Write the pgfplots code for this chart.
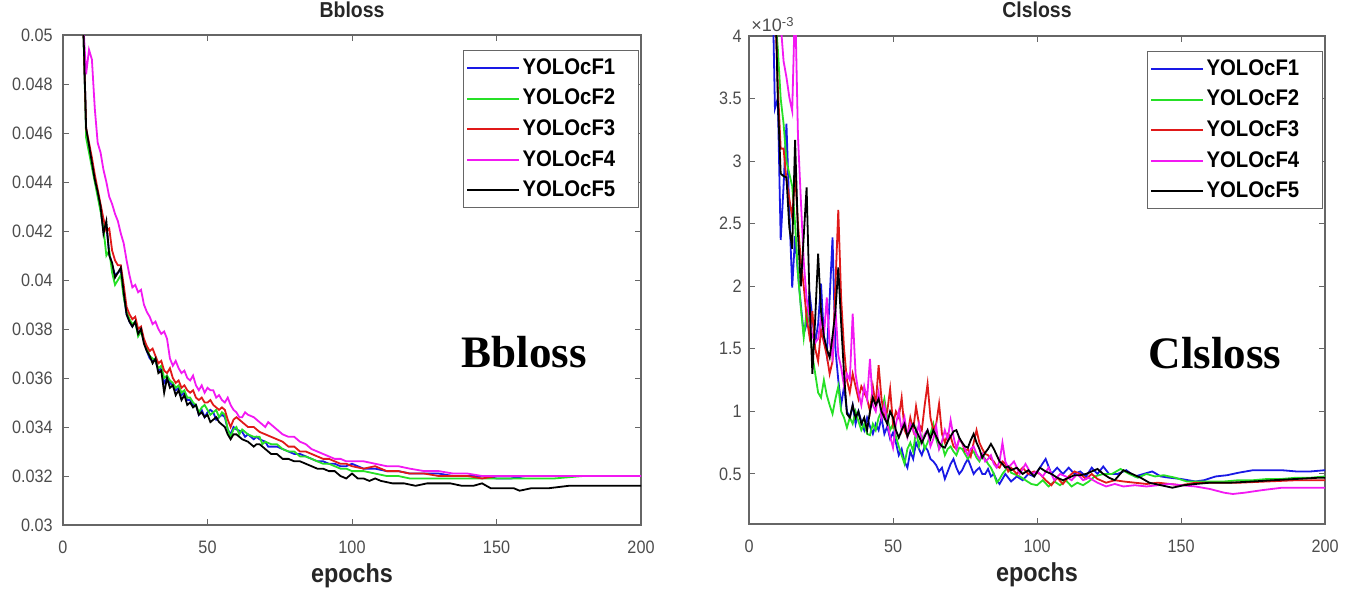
\documentclass[border=0pt]{standalone}
\usepackage{fontspec}
\setmainfont{Liberation Sans}[FakeStretch=0.9]
\newfontfamily\serifbf{Liberation Serif}
\newfontfamily\plainsans{Liberation Sans}
\usepackage{pgfplots}
\pgfplotsset{compat=1.18}
\definecolor{cFa}{rgb}{0.1,0.1,0.9}
\definecolor{cFb}{rgb}{0.15,0.88,0.15}
\definecolor{cFc}{rgb}{0.88,0.1,0.1}
\definecolor{cFd}{rgb}{0.95,0.1,0.95}
\definecolor{cFe}{rgb}{0,0,0}
\definecolor{axgray}{rgb}{0.4,0.4,0.4}
\definecolor{lblgray}{rgb}{0.3,0.3,0.3}
\pgfplotsset{mystyle/.style={
  scale only axis, xmin=0, xmax=200,
  scaled x ticks=false, scaled y ticks=false,
  axis line style={axgray, line width=0.6pt},
  tick style={axgray, line width=0.5pt},
  major tick length=3pt, tick align=inside, tick pos=both,
  xtick={0,50,100,150,200}, xticklabels={0,50,100,150,200},
  ticklabel style={font=\fontsize{9}{10}\selectfont, text=lblgray},
  xticklabel style={anchor=base, yshift=-14pt},
  title style={font=\bfseries\fontsize{10.8}{12}\selectfont, text=black!85, at={(0.5,1)}, anchor=base, yshift=3pt},
  xlabel style={font=\bfseries\fontsize{13}{14}\selectfont, text=black!85, at={(axis description cs:0.5,0)}, anchor=base, yshift=-28.5pt},
  legend style={at={(rel axis cs:0.997,0.969)}, anchor=north east, draw=axgray, line width=0.5pt, fill=white,
    inner xsep=1.5pt, inner ysep=1pt, row sep=0pt, font=\bfseries\fontsize{11.3}{13}\selectfont,
    nodes={inner xsep=1.25pt, inner ysep=2.5pt, text height=8.3pt, text depth=2pt}},
  legend cell align=left,
  legend image code/.code={\draw[#1, line width=1pt] (0pt,0pt) -- (26pt,0pt);},
  every axis plot/.append style={line width=0.9pt, no markers},
}}
\begin{document}
\begin{tikzpicture}
\useasboundingbox (0,0) rectangle (673.5pt,295pt);
% ---------------- Left: Bbloss ----------------
\begin{axis}[mystyle, at={(31.5pt,32.5pt)}, anchor=south west, width=289pt, height=245pt,
  ymin=0.03, ymax=0.05,
  ytick={0.03,0.032,0.034,0.036,0.038,0.04,0.042,0.044,0.046,0.048,0.05},
  yticklabels={0.03,0.032,0.034,0.036,0.038,0.04,0.042,0.044,0.046,0.048,0.05},
  yticklabel style={anchor=east, inner xsep=0pt, xshift=-5pt},
  title={Bbloss}, xlabel={epochs}]
\addplot[cFa] coordinates {(7,0.0505)(8,0.0461)(9,0.0454)(10,0.0447)(11,0.0441)(12,0.0435)(13,0.0429)(14,0.0420)(15,0.0422)(16,0.0411)(17,0.0406)(18,0.0402)(19,0.0403)(20,0.0404)(21,0.0394)(22,0.0386)(23,0.0383)(24,0.0381)(25,0.0383)(26,0.0378)(27,0.0380)(28,0.0375)(29,0.0371)(30,0.0368)(31,0.0367)(32,0.0367)(33,0.0363)(34,0.0364)(35,0.0358)(36,0.0360)(37,0.0358)(38,0.0357)(39,0.0355)(40,0.0356)(41,0.0353)(42,0.0354)(43,0.0351)(44,0.0351)(45,0.0349)(46,0.0349)(47,0.0345)(48,0.0347)(49,0.0344)(50,0.0346)(51,0.0347)(52,0.0346)(53,0.0343)(54,0.0344)(55,0.0345)(56,0.0344)(57,0.0339)(58,0.0337)(59,0.0340)(60,0.0339)(62,0.0338)(63,0.0336)(64,0.0337)(66,0.0335)(67,0.0336)(68,0.0335)(70,0.0334)(71,0.0332)(72,0.0332)(74,0.0332)(76,0.0331)(78,0.0330)(80,0.0329)(82,0.0329)(84,0.0328)(86,0.0327)(88,0.0326)(90,0.0326)(92,0.0325)(94,0.0325)(96,0.0324)(98,0.0324)(100,0.0325)(104,0.0323)(108,0.0323)(112,0.0322)(116,0.0322)(120,0.0321)(125,0.0321)(130,0.0321)(135,0.0320)(140,0.0320)(145,0.0320)(150,0.0319)(155,0.0319)(160,0.0320)(170,0.0320)(180,0.0320)(190,0.0320)(200,0.0320)};
\addlegendentry{YOLOcF1\hspace*{9pt}}
\addplot[cFb] coordinates {(7,0.0505)(8,0.0458)(9,0.0452)(10,0.0446)(11,0.0440)(12,0.0434)(13,0.0428)(14,0.0421)(15,0.0410)(16,0.0412)(17,0.0403)(18,0.0398)(19,0.0400)(20,0.0402)(21,0.0393)(22,0.0387)(23,0.0384)(24,0.0382)(25,0.0383)(26,0.0377)(27,0.0379)(28,0.0375)(29,0.0372)(30,0.0369)(31,0.0368)(32,0.0367)(33,0.0364)(34,0.0365)(35,0.0360)(36,0.0361)(37,0.0359)(38,0.0358)(39,0.0356)(40,0.0357)(41,0.0354)(42,0.0355)(43,0.0352)(44,0.0352)(45,0.0350)(46,0.0349)(47,0.0346)(48,0.0348)(49,0.0349)(50,0.0347)(51,0.0345)(52,0.0346)(53,0.0347)(54,0.0344)(55,0.0346)(56,0.0345)(57,0.0339)(58,0.0336)(59,0.0339)(60,0.0340)(61,0.0337)(62,0.0339)(64,0.0337)(66,0.0336)(68,0.0336)(69,0.0333)(70,0.0334)(72,0.0333)(74,0.0333)(76,0.0331)(78,0.0330)(80,0.0330)(82,0.0328)(84,0.0328)(86,0.0327)(88,0.0326)(90,0.0325)(92,0.0325)(94,0.0324)(96,0.0323)(98,0.0323)(100,0.0322)(104,0.0322)(108,0.0321)(112,0.0320)(116,0.0320)(120,0.0319)(125,0.0319)(130,0.0319)(140,0.0319)(150,0.0319)(160,0.0319)(170,0.0319)(180,0.0320)(190,0.0320)(200,0.0320)};
\addlegendentry{YOLOcF2\hspace*{9pt}}
\addplot[cFc] coordinates {(7,0.0505)(8,0.0462)(9,0.0456)(10,0.0450)(11,0.0443)(12,0.0437)(13,0.0431)(14,0.0425)(15,0.0420)(16,0.0421)(17,0.0412)(18,0.0408)(19,0.0406)(20,0.0406)(21,0.0398)(22,0.0389)(23,0.0386)(24,0.0384)(25,0.0385)(26,0.0380)(27,0.0381)(28,0.0376)(29,0.0373)(30,0.0371)(31,0.0372)(32,0.0369)(33,0.0366)(34,0.0367)(35,0.0363)(36,0.0362)(37,0.0364)(38,0.0360)(39,0.0358)(40,0.0359)(41,0.0356)(42,0.0357)(43,0.0355)(44,0.0354)(45,0.0355)(46,0.0352)(47,0.0351)(48,0.0352)(49,0.0350)(50,0.0350)(51,0.0351)(52,0.0349)(53,0.0348)(54,0.0347)(55,0.0348)(56,0.0347)(57,0.0343)(58,0.0340)(59,0.0343)(60,0.0344)(62,0.0342)(64,0.0340)(66,0.0340)(68,0.0338)(70,0.0337)(72,0.0336)(74,0.0335)(76,0.0334)(78,0.0332)(80,0.0332)(82,0.0330)(84,0.0330)(86,0.0329)(88,0.0328)(90,0.0327)(92,0.0327)(94,0.0326)(96,0.0325)(98,0.0325)(100,0.0324)(104,0.0323)(108,0.0324)(112,0.0322)(116,0.0322)(120,0.0321)(125,0.0321)(130,0.0320)(135,0.0320)(140,0.0320)(145,0.0319)(150,0.0320)(160,0.0320)(170,0.0320)(180,0.0320)(190,0.0320)(200,0.0320)};
\addlegendentry{YOLOcF3\hspace*{9pt}}
\addplot[cFd] coordinates {(7,0.0505)(8,0.0484)(9,0.0494)(10,0.0490)(11,0.0470)(12,0.0456)(13,0.0452)(14,0.0445)(15,0.0440)(16,0.0434)(17,0.0431)(18,0.0427)(19,0.0424)(20,0.0419)(21,0.0415)(22,0.0408)(23,0.0402)(24,0.0397)(25,0.0398)(26,0.0395)(27,0.0396)(28,0.0390)(29,0.0387)(30,0.0385)(31,0.0382)(32,0.0383)(33,0.0380)(34,0.0378)(35,0.0379)(36,0.0376)(37,0.0368)(38,0.0365)(39,0.0367)(40,0.0364)(41,0.0362)(42,0.0363)(43,0.0360)(44,0.0359)(45,0.0361)(46,0.0357)(47,0.0355)(48,0.0357)(49,0.0354)(50,0.0356)(51,0.0355)(52,0.0355)(53,0.0352)(54,0.0353)(55,0.0351)(56,0.0350)(57,0.0352)(58,0.0349)(59,0.0347)(60,0.0346)(61,0.0344)(62,0.0344)(63,0.0346)(64,0.0345)(66,0.0344)(68,0.0342)(69,0.0341)(70,0.0340)(71,0.0342)(72,0.0341)(74,0.0339)(76,0.0337)(78,0.0336)(80,0.0336)(82,0.0334)(84,0.0333)(86,0.0331)(88,0.0330)(90,0.0329)(92,0.0328)(94,0.0327)(96,0.0327)(98,0.0326)(100,0.0326)(104,0.0326)(108,0.0325)(112,0.0324)(116,0.0324)(120,0.0323)(125,0.0322)(130,0.0322)(135,0.0321)(140,0.0321)(145,0.0320)(150,0.0320)(160,0.0320)(170,0.0320)(180,0.0320)(190,0.0320)(200,0.0320)};
\addlegendentry{YOLOcF4\hspace*{9pt}}
\addplot[cFe] coordinates {(7,0.0505)(8,0.0462)(9,0.0455)(10,0.0448)(11,0.0441)(12,0.0436)(13,0.0430)(14,0.0419)(15,0.0424)(16,0.0410)(17,0.0407)(18,0.0401)(19,0.0403)(20,0.0405)(21,0.0395)(22,0.0386)(23,0.0383)(24,0.0381)(25,0.0383)(26,0.0378)(27,0.0380)(28,0.0374)(29,0.0371)(30,0.0369)(31,0.0366)(32,0.0368)(33,0.0362)(34,0.0363)(35,0.0354)(36,0.0360)(37,0.0356)(38,0.0357)(39,0.0353)(40,0.0355)(41,0.0351)(42,0.0353)(43,0.0349)(44,0.0350)(45,0.0348)(46,0.0349)(47,0.0345)(48,0.0346)(49,0.0344)(50,0.0345)(51,0.0342)(52,0.0343)(53,0.0344)(54,0.0342)(55,0.0341)(56,0.0340)(57,0.0337)(58,0.0335)(59,0.0337)(60,0.0337)(62,0.0335)(64,0.0334)(66,0.0332)(67,0.0333)(68,0.0333)(70,0.0331)(72,0.0329)(74,0.0329)(76,0.0327)(78,0.0327)(80,0.0326)(82,0.0326)(84,0.0325)(86,0.0324)(88,0.0323)(90,0.0323)(92,0.0322)(94,0.0322)(96,0.0320)(98,0.0319)(100,0.0321)(102,0.0319)(104,0.0319)(106,0.0318)(108,0.0319)(110,0.0318)(114,0.0317)(118,0.0317)(122,0.0316)(126,0.0317)(130,0.0317)(134,0.0317)(138,0.0316)(142,0.0316)(145,0.0317)(148,0.0315)(152,0.0315)(156,0.0315)(158,0.0314)(162,0.0315)(168,0.0315)(175,0.0316)(182,0.0316)(190,0.0316)(200,0.0316)};
\addlegendentry{YOLOcF5\hspace*{9pt}}
\node[font=\serifbf\bfseries\fontsize{22.5}{24}\selectfont, inner sep=0pt] at (rel axis cs:0.798,0.353) {Bbloss};
\end{axis}
% ---------------- Right: Clsloss ----------------
\begin{axis}[mystyle, name=R, at={(374.5pt,33pt)}, anchor=south west, width=288pt, height=244pt,
  ymin=0.1, ymax=4,
  ytick={0.5,1,1.5,2,2.5,3,3.5,4},
  yticklabels={0.5,1,1.5,2,2.5,3,3.5,4},
  yticklabel style={anchor=east, inner xsep=0pt, xshift=-3.5pt},
  title={Clsloss}, xlabel={epochs}]
\addplot[cFa] coordinates {(8,4.6)(9,3.42)(10,3.5)(11,2.37)(12,2.8)(13,3.3)(14,2.6)(15,1.99)(16,2.4)(17,2.1)(18,1.85)(19,1.62)(20,1.7)(21,1.95)(22,1.75)(23,1.55)(24,1.7)(25,2.02)(26,1.6)(27,1.45)(28,1.9)(29,2.39)(30,1.5)(31,1.25)(32,1.05)(33,1.2)(34,1.0)(35,0.95)(36,1.05)(37,0.9)(38,1.0)(39,0.92)(40,0.85)(41,0.95)(42,0.88)(43,0.82)(44,0.9)(45,0.85)(46,0.95)(47,0.82)(48,0.88)(49,0.78)(50,0.83)(51,0.75)(52,0.65)(53,0.7)(54,0.6)(55,0.55)(56,0.68)(57,0.62)(58,0.75)(59,0.7)(60,0.65)(61,0.72)(62,0.69)(63,0.62)(64,0.6)(65,0.57)(66,0.52)(67,0.55)(68,0.46)(69,0.52)(70,0.58)(71,0.62)(72,0.55)(73,0.5)(74,0.53)(75,0.58)(76,0.62)(77,0.56)(78,0.5)(79,0.53)(80,0.55)(81,0.5)(82,0.5)(83,0.54)(84,0.48)(85,0.5)(86,0.45)(87,0.42)(88,0.46)(89,0.5)(90,0.47)(91,0.44)(92,0.46)(93,0.48)(95,0.45)(97,0.5)(99,0.48)(101,0.55)(103,0.62)(105,0.5)(107,0.55)(109,0.5)(111,0.55)(113,0.5)(115,0.52)(117,0.48)(119,0.55)(121,0.5)(123,0.56)(125,0.5)(128,0.5)(131,0.53)(134,0.48)(137,0.5)(140,0.52)(143,0.48)(146,0.47)(150,0.46)(155,0.44)(158,0.45)(162,0.48)(166,0.49)(170,0.51)(175,0.53)(180,0.53)(185,0.53)(190,0.52)(195,0.52)(200,0.53)};
\addlegendentry{YOLOcF1\hspace*{9pt}}
\addplot[cFb] coordinates {(8,4.8)(9,4.2)(10,3.9)(11,3.5)(12,3.3)(13,3.0)(14,2.9)(15,2.8)(16,2.5)(17,2.1)(18,1.83)(19,1.59)(20,1.8)(21,1.7)(22,1.45)(23,1.3)(24,1.15)(25,1.11)(26,1.25)(27,1.13)(28,1.05)(29,0.98)(30,1.1)(31,1.2)(32,1.0)(33,0.95)(34,0.87)(35,0.95)(36,0.9)(37,1.0)(38,0.92)(39,0.85)(40,0.9)(41,0.82)(42,0.81)(43,0.9)(44,0.85)(45,0.95)(46,1.0)(47,1.1)(48,0.95)(49,0.85)(50,0.9)(51,0.8)(52,0.72)(53,0.65)(54,0.58)(55,0.7)(56,0.75)(57,0.68)(58,0.85)(59,0.72)(60,0.8)(61,0.7)(62,0.75)(63,0.82)(64,0.9)(65,0.78)(66,0.7)(67,0.74)(68,0.65)(69,0.7)(70,0.72)(71,0.68)(72,0.65)(73,0.71)(74,0.7)(75,0.66)(76,0.62)(77,0.66)(78,0.68)(79,0.63)(80,0.6)(81,0.65)(82,0.62)(83,0.58)(84,0.55)(85,0.5)(86,0.43)(87,0.46)(88,0.5)(89,0.53)(90,0.55)(91,0.51)(92,0.5)(94,0.48)(96,0.45)(98,0.42)(100,0.41)(102,0.45)(104,0.4)(106,0.44)(108,0.41)(110,0.45)(112,0.4)(114,0.43)(116,0.41)(118,0.44)(120,0.48)(123,0.5)(126,0.5)(129,0.54)(132,0.5)(135,0.47)(138,0.5)(141,0.48)(144,0.49)(148,0.47)(152,0.44)(156,0.44)(160,0.44)(165,0.44)(170,0.45)(175,0.45)(180,0.46)(185,0.46)(190,0.47)(195,0.47)(200,0.48)};
\addlegendentry{YOLOcF2\hspace*{9pt}}
\addplot[cFc] coordinates {(8,5)(9,4.3)(10,3.6)(11,3.1)(12,3.1)(13,2.85)(14,2.7)(15,2.55)(16,2.9)(17,2.5)(18,2.2)(19,2.0)(20,1.75)(21,1.6)(22,1.8)(23,1.5)(24,1.4)(25,1.65)(26,1.55)(27,1.45)(28,1.3)(29,1.4)(30,2.0)(31,2.61)(32,1.9)(33,1.5)(34,1.25)(35,1.15)(36,1.3)(37,1.2)(38,1.1)(39,1.2)(40,1.15)(41,1.1)(42,1.0)(43,1.2)(44,1.05)(45,1.37)(46,1.1)(47,0.95)(48,1.0)(49,1.18)(50,0.9)(51,1.0)(52,0.95)(53,1.11)(54,0.85)(55,0.8)(56,0.95)(57,0.85)(58,1.04)(59,0.9)(60,0.85)(61,1.05)(62,1.22)(63,0.95)(64,0.85)(65,0.9)(66,1.06)(67,0.82)(68,0.75)(69,0.82)(70,0.8)(71,0.72)(72,0.7)(73,0.78)(74,0.75)(75,0.68)(76,0.7)(77,0.64)(78,0.75)(79,0.85)(80,0.75)(81,0.7)(82,0.66)(83,0.65)(84,0.62)(85,0.6)(86,0.56)(87,0.55)(88,0.6)(89,0.58)(90,0.52)(91,0.55)(93,0.5)(95,0.55)(97,0.5)(99,0.52)(101,0.5)(103,0.45)(105,0.41)(107,0.47)(109,0.42)(111,0.48)(113,0.52)(115,0.5)(117,0.46)(119,0.5)(121,0.46)(124,0.43)(127,0.45)(130,0.44)(134,0.43)(138,0.42)(142,0.43)(146,0.42)(150,0.41)(155,0.43)(160,0.43)(170,0.43)(180,0.44)(190,0.45)(200,0.45)};
\addlegendentry{YOLOcF3\hspace*{9pt}}
\addplot[cFd] coordinates {(8,5)(9,4.5)(10,4.2)(11,4.1)(12,3.8)(13,3.67)(14,3.51)(15,3.4)(16,4.3)(17,3.2)(18,2.69)(19,2.2)(20,1.9)(21,1.75)(22,1.6)(23,1.55)(24,1.58)(25,1.75)(26,1.6)(27,1.91)(28,1.55)(29,1.43)(30,1.83)(31,1.45)(32,1.35)(33,1.2)(34,1.3)(35,1.25)(36,1.78)(37,1.3)(38,1.15)(39,1.05)(40,1.2)(41,1.1)(42,1.42)(43,1.05)(44,1.0)(45,1.15)(46,0.95)(47,1.05)(48,0.9)(49,0.8)(50,0.71)(51,0.9)(52,1.0)(53,0.85)(54,0.95)(55,0.8)(56,0.9)(57,0.85)(58,0.8)(59,0.9)(60,0.75)(61,0.82)(62,0.85)(63,0.72)(64,0.78)(65,0.88)(66,0.7)(67,0.76)(68,0.85)(69,0.78)(70,0.93)(71,0.8)(72,0.7)(73,0.78)(74,0.75)(75,0.7)(76,0.65)(77,0.7)(78,0.72)(79,0.66)(80,0.62)(81,0.66)(82,0.6)(83,0.62)(84,0.65)(85,0.58)(86,0.55)(87,0.6)(88,0.75)(89,0.6)(90,0.55)(92,0.6)(94,0.5)(96,0.58)(98,0.5)(100,0.52)(102,0.48)(104,0.55)(106,0.45)(108,0.5)(110,0.48)(112,0.45)(114,0.5)(116,0.45)(118,0.47)(121,0.43)(124,0.4)(127,0.42)(130,0.4)(134,0.41)(138,0.4)(142,0.41)(146,0.42)(150,0.41)(155,0.4)(160,0.38)(165,0.35)(168,0.34)(172,0.35)(178,0.37)(185,0.39)(190,0.39)(195,0.39)(200,0.39)};
\addlegendentry{YOLOcF4\hspace*{9pt}}
\addplot[cFe] coordinates {(8,5)(9,4.5)(10,3.49)(11,2.9)(12,2.88)(13,2.87)(14,2.47)(15,2.3)(16,3.17)(17,2.42)(18,2.0)(19,2.4)(20,2.79)(21,1.91)(22,1.30)(23,1.75)(24,2.26)(25,1.8)(26,1.6)(27,1.5)(28,1.43)(29,1.6)(30,1.8)(31,2.15)(32,1.7)(33,1.3)(34,0.98)(35,0.95)(36,1.05)(37,0.95)(38,1.0)(39,0.9)(40,0.95)(41,0.85)(42,1.0)(43,1.11)(44,1.05)(45,1.1)(46,1.0)(47,0.95)(48,0.9)(49,1.0)(50,0.95)(51,0.85)(52,0.79)(53,0.85)(54,0.9)(55,0.8)(56,0.85)(57,0.9)(58,0.85)(59,0.8)(60,0.75)(61,0.8)(62,0.85)(63,0.78)(64,0.85)(65,0.8)(66,0.75)(67,0.72)(68,0.71)(69,0.76)(70,0.8)(71,0.84)(72,0.85)(73,0.79)(74,0.75)(75,0.72)(76,0.71)(77,0.77)(78,0.82)(79,0.75)(80,0.7)(81,0.63)(82,0.67)(83,0.7)(84,0.74)(85,0.7)(86,0.65)(87,0.6)(88,0.58)(89,0.55)(90,0.56)(91,0.53)(93,0.55)(95,0.5)(97,0.53)(99,0.48)(101,0.55)(103,0.52)(105,0.5)(107,0.47)(109,0.45)(111,0.47)(113,0.49)(115,0.49)(117,0.5)(119,0.52)(121,0.54)(123,0.5)(125,0.47)(127,0.45)(130,0.53)(133,0.5)(136,0.47)(139,0.43)(143,0.41)(147,0.39)(151,0.41)(155,0.42)(160,0.43)(167,0.43)(175,0.44)(182,0.45)(190,0.46)(198,0.47)(200,0.47)};
\addlegendentry{YOLOcF5\hspace*{9pt}}
\node[font=\serifbf\bfseries\fontsize{22.5}{24}\selectfont, inner sep=0pt] at (rel axis cs:0.809,0.350) {Clsloss};
\end{axis}
\node[font=\plainsans\fontsize{9}{10}\selectfont, text=lblgray, anchor=base west, inner sep=0pt] at ([xshift=1pt,yshift=2pt]R.north west) {\char"00D7 10\raisebox{0.6ex}{\fontsize{6.5}{7}\selectfont -3}};
\end{tikzpicture}
\end{document}
